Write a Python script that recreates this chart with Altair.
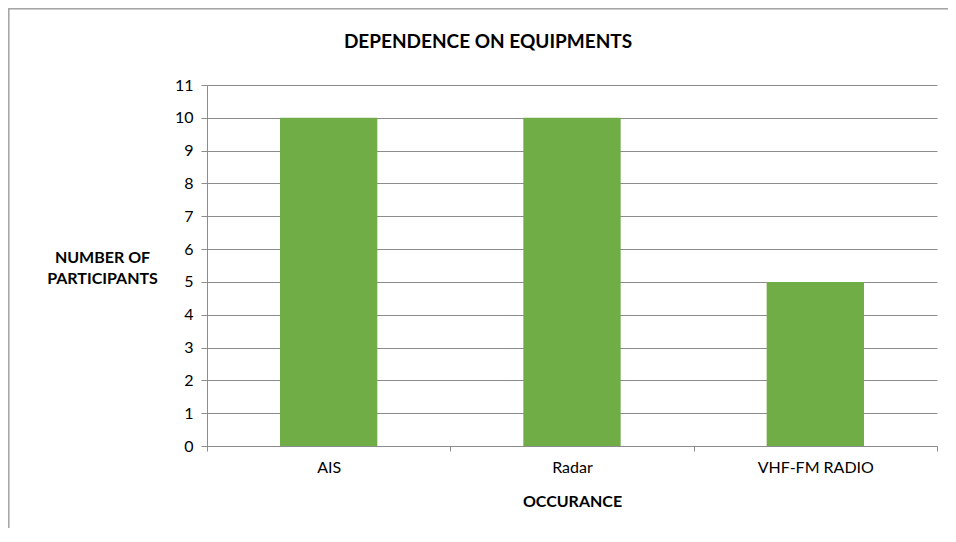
import altair as alt
import pandas as pd

categories = ["AIS", "Radar", "VHF-FM RADIO"]
values = [10, 10, 5]
y_ticks = list(range(0, 12))
chart_title = "DEPENDENCE ON EQUIPMENTS"

df = pd.DataFrame({"cat": categories, "val": values})

FONT = "Lato"
GRAY = "#8C8C8C"

bars = alt.Chart(df).mark_bar(color="#70AD47", width=alt.RelativeBandSize(0.4)).encode(
    x=alt.X("cat:N", sort=categories,
            scale=alt.Scale(paddingInner=0, paddingOuter=0),
            axis=alt.Axis(title="OCCURANCE", labelAngle=0, tickBand="extent",
                          titlePadding=18, titleFontWeight="bold", titleFontSize=16,
                          labelFontSize=16, labelPadding=8, tickSize=5,
                          domainColor=GRAY, tickColor=GRAY, grid=False,
                          labelColor="#000000", titleColor="#000000",
                          labelFont=FONT, titleFont=FONT)),
    y=alt.Y("val:Q", scale=alt.Scale(domain=[0, 11], nice=False),
            axis=alt.Axis(title=["NUMBER OF", "PARTICIPANTS"], values=y_ticks,
                          titleAngle=0, titleAlign="center", titleBaseline="middle",
                          titleX=-105, titleY=172, titleFontWeight="bold",
                          titleFontSize=16, titleLineHeight=21,
                          labelFontSize=16, labelPadding=8, tickSize=6,
                          domainColor=GRAY, tickColor=GRAY, gridColor=GRAY,
                          labelColor="#000000", titleColor="#000000",
                          labelFont=FONT, titleFont=FONT)),
)

title_df = pd.DataFrame({"t": [chart_title]})
title = alt.Chart(title_df).mark_text(font=FONT, fontSize=19, fontWeight="bold",
                                      color="#000000", align="center",
                                      baseline="middle").encode(
    text="t:N", x=alt.value(281), y=alt.value(-43)
)

border = alt.Chart(df).mark_rule(color="#A6A6A6", strokeWidth=1.5).encode(
    x=alt.value(-198.5), x2=alt.value(-198.5), y=alt.value(-77), y2=alt.value(480)
)
border_top = alt.Chart(df).mark_rule(color="#A6A6A6", strokeWidth=1.5).encode(
    x=alt.value(-199), x2=alt.value(780), y=alt.value(-76.5), y2=alt.value(-76.5)
)

chart = alt.layer(border, border_top, bars, title).properties(
    width=730, height=361,
    autosize=alt.AutoSizeParams(type="none"),
    padding={"left": 199, "top": 77, "right": 11, "bottom": 82},
).configure_view(stroke=None)

chart.save("out.html", embed_options={"renderer": "svg", "actions": False})
